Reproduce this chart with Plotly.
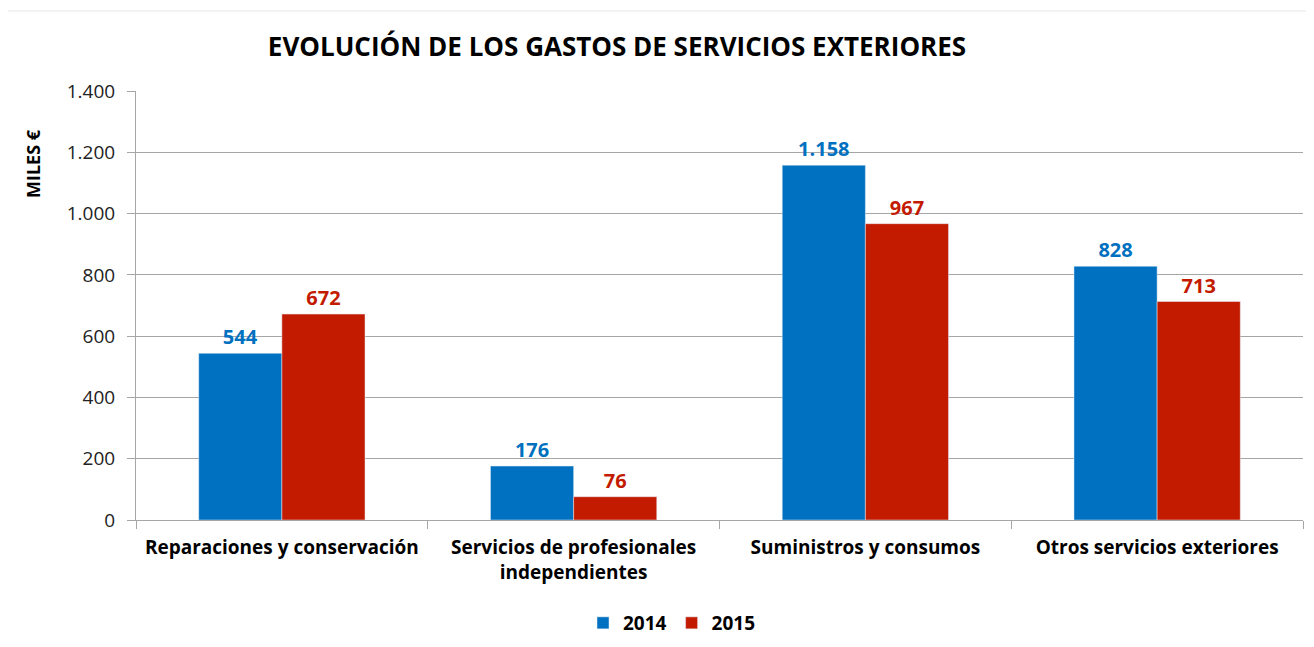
import plotly.graph_objects as go

categories = ["Reparaciones y conservación", "Servicios de profesionales<br>independientes",
              "Suministros y consumos", "Otros servicios exteriores"]
values_2014 = [544, 176, 1158, 828]
values_2015 = [672, 76, 967, 713]
series_names = ["2014", "2015"]
tick_vals = [0, 200, 400, 600, 800, 1000, 1200, 1400]

FONT = "Open Sans"
BLUE = "#0070C0"
RED = "#C31B00"

W, H = 1298, 631
OX, OY = 8, 8  # page offset of the figure
L, T = 136 - OX, 91 - OY
PW, PH = 1167, 429
R = W - L - PW
B = H - T - PH

def px(xpage):
    return (xpage - OX - L) / PW

def py(ypage):
    return 1 - (ypage - OY - T) / PH

fig = go.Figure()
fig.add_trace(go.Bar(x=categories, y=values_2014, name="<b>" + series_names[0] + "</b>", marker_color=BLUE,
                     text=values_2014, texttemplate="<b>%{y:,}</b>", textposition="outside",
                     textfont=dict(color=BLUE, size=20, family=FONT), cliponaxis=False))
fig.add_trace(go.Bar(x=categories, y=values_2015, name="<b>" + series_names[1] + "</b>", marker_color=RED,
                     text=values_2015, texttemplate="<b>%{y:,}</b>", textposition="outside",
                     textfont=dict(color=RED, size=20, family=FONT), cliponaxis=False))

fig.update_layout(
    width=W, height=H,
    margin=dict(l=L, r=R, t=T, b=B, autoexpand=False),
    paper_bgcolor="white", plot_bgcolor="white",
    separators=",.",
    barmode="group", bargap=0.43, bargroupgap=0,
    font=dict(family=FONT, color="#000000"),
    title=dict(text="<b>EVOLUCIÓN DE LOS GASTOS DE SERVICIOS EXTERIORES</b>",
               x=(617 - OX) / W, xanchor="center", y=1 - (47 - OY) / H, yanchor="middle",
               font=dict(size=26, family=FONT, color="#000")),
    legend=dict(orientation="h", x=px(672), xanchor="center", y=py(623), yanchor="middle",
                font=dict(size=19, family=FONT), traceorder="normal"),
    showlegend=True,
)
fig.update_yaxes(range=[0, 1400], tickvals=tick_vals, tickformat=",", automargin=False,
                 showgrid=True, gridcolor="#A6A6A6", gridwidth=1,
                 showline=True, linecolor="#A6A6A6", linewidth=1,
                 ticks="outside", ticklen=8, tickcolor="#A6A6A6", ticklabelstandoff=8,
                 tickfont=dict(size=19, family=FONT, color="#222"), zeroline=False)
fig.update_xaxes(showline=True, linecolor="#A6A6A6", linewidth=1, automargin=False,
                 ticks="outside", ticklen=8, tickcolor="#A6A6A6", tickson="boundaries",
                 ticklabelstandoff=10,
                 tickfont=dict(size=19, family=FONT, color="#000"), showgrid=False,
                 tickvals=categories, ticktext=["<b>" + c + "</b>" for c in categories])

fig.add_annotation(text="<b>MILES €</b>", textangle=-90, xref="paper", yref="paper",
                   x=px(33), y=py(164), xanchor="center", yanchor="middle", showarrow=False,
                   font=dict(size=18, family=FONT, color="#000"))
fig.add_shape(type="line", xref="paper", yref="paper", x0=px(8), x1=px(1314),
              y0=py(11), y1=py(11), line=dict(color="#E6E6E6", width=1))

fig.write_html("out.html")
